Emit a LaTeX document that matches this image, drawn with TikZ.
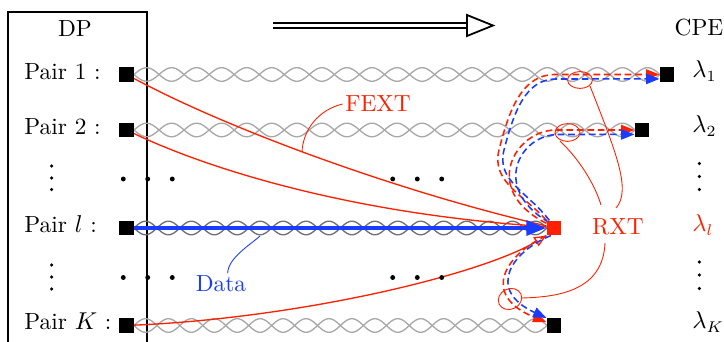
\documentclass[tikz,border=0pt]{standalone}
\usetikzlibrary{arrows.meta}
\pgfdeclarelayer{back}
\pgfsetlayers{back,main}
\definecolor{xred}{RGB}{255,32,0}
\definecolor{xblue}{RGB}{25,60,255}
\definecolor{pairlight}{RGB}{168,168,168}
\definecolor{pairdark}{RGB}{112,112,112}
% twisted pair: #1 centre line, #2 start x, #3 end x, #4 half period, #5 style
\newcommand\twistedpair[5]{%
  \draw[#5] plot[domain=#2:#3, samples=300] (\x,{#1+6.8*sin(((\x-#2)/#4)*180)});
  \draw[#5] plot[domain=#2:#3, samples=300] (\x,{#1-6.8*sin(((\x-#2)/#4)*180)});}
\begin{document}
\begin{tikzpicture}[x=0.45pt, y=-0.45pt,
  font=\fontsize{10.5}{12.6}\selectfont,
  sq/.style={rectangle, fill=black, inner sep=0pt, minimum size=6.4pt},
  fext/.style={xred, line width=0.6pt},
  lead/.style={line width=0.4pt},
  rxt/.style={line width=0.7pt, dash pattern=on 3pt off 1.7pt,
    -{Triangle[length=6pt,width=4.6pt]}},
  lbl/.style={inner sep=1pt}]
\useasboundingbox (0,0) rectangle (724,342);

% terminals
\node[sq] (l1) at (126.5,74.5) {};
\node[sq] (l2) at (126.5,130) {};
\node[sq] (ll) at (126.5,228) {};
\node[sq] (lK) at (126.5,325.5) {};
\node[sq] (r1) at (667,74.5) {};
\node[sq] (r2) at (642,130) {};
\node[sq, fill=xred] (rl) at (554,228) {};
\node[sq] (rK) at (554,325.5) {};

\begin{pgfonlayer}{back}
  % DP enclosure
  \draw[line width=0.6pt] (8,12) rectangle (147,346);
  % cables
  \twistedpair{74.5}{134}{660}{25.05}{pairlight, line width=0.6pt}
  \twistedpair{130}{134}{635}{25.05}{pairlight, line width=0.6pt}
  \twistedpair{228}{134}{547}{22.94}{pairdark, line width=0.6pt}
  \twistedpair{325.5}{134}{547}{22.94}{pairlight, line width=0.6pt}
  % far-end crosstalk
  \draw[fext] (l1) .. controls (230,130) and (400,192) .. (rl.165);
  \draw[fext] (l2) .. controls (215,172) and (360,215) .. (rl.170);
  \draw[fext, -{Triangle[open, length=5.5pt, width=4.6pt]}]
    (lK) .. controls (300,318) and (480,275) .. (rl.south west);
  % data
  \draw[xblue, line width=1.8pt, -{Triangle[length=9pt,width=6.6pt]}]
    (ll.center) -- (rl.west);
  % crosstalk at the receiver
  \draw[rxt, xred] (rl.north west) .. controls (524,195) and (491,182) .. (499,150)
    .. controls (509,110) and (522,74.5) .. (555,74.5) -- (r1.west);
  \draw[rxt, xblue] ([xshift=1.3pt]rl.north west) .. controls (528,192) and (496,181) .. (504,150)
    .. controls (514,111) and (526,79) .. (556,79) -- ([yshift=-2pt]r1.west);
  \draw[rxt, xred] ([yshift=-1.3pt]rl.north west) .. controls (480,190) and (515,130) .. (556,130) -- (r2.west);
  \draw[rxt, xblue] ([xshift=1.3pt,yshift=-1pt]rl.north west) .. controls (490,188) and (520,134.5) .. (558,134.5) -- ([yshift=-2pt]r2.west);
  \draw[rxt, xred] (rl.south west) .. controls (505,255) and (480,295) .. ([yshift=1.5pt]rK.west);
  \draw[rxt, xblue] ([xshift=2pt]rl.south west) .. controls (511,252) and (486,290) .. (rK.north west);
\end{pgfonlayer}

% direction arrow
\coordinate (arrA) at (273,25.5);
\coordinate (arrB) at (467,25.5);
\draw[line width=0.8pt, double distance=1.7pt] (arrA) -- (arrB);
\draw[line width=0.8pt, fill=white] (467,15) -- (493,25.5) -- (467,36) -- cycle;

% headings and labels
\node (dp) at (75,28.5) {DP};
\node (cpe) at (699,28) {CPE};
\node[anchor=base west, inner sep=0pt] (p1) at (24,79.3) {Pair 1 :};
\node[anchor=base west, inner sep=0pt] (p2) at (24,135) {Pair 2 :};
\node[anchor=base west, inner sep=0pt] (pl) at (24,233) {Pair $l$ :};
\node[anchor=base west, inner sep=0pt] (pK) at (24,330) {Pair $K$ :};
\node[anchor=base west, inner sep=0pt] (lam1) at (692,77.5) {$\lambda_1$};
\node[anchor=base west, inner sep=0pt] (lam2) at (692,132.5) {$\lambda_2$};
\node[anchor=base west, inner sep=0pt, text=xred] (laml) at (692,232) {$\lambda_l$};
\node[anchor=base west, inner sep=0pt] (lamK) at (692,329) {$\lambda_K$};

% FEXT note
\node[lbl, text=xred] (fextlbl) at (378,104) {FEXT};
\coordinate (fexttap) at (302,152);
\draw[lead, xred] (fextlbl.west) .. controls (318,110) and (303,130) .. (fexttap);

% data note
\node[lbl, text=xblue] (datalbl) at (221,284) {Data};
\coordinate (datatap) at (260,236);
\draw[lead, xblue] ([xshift=3pt]datalbl.north) .. controls (228,258) and (250,245) .. (datatap);

% RXT note with loops round the crosstalk paths
\node[lbl, text=xred] (rxtlbl) at (618,227) {RXT};
\coordinate (loop1) at (580,80);
\coordinate (loop2) at (567.5,132.5);
\coordinate (loopK) at (510,299);
\draw[lead, xred] (loop1) ellipse [x radius=5.6pt, y radius=3.8pt];
\draw[lead, xred] (loop2) ellipse [x radius=5.6pt, y radius=4pt];
\draw[lead, xred, rotate around={25:(loopK)}] (loopK) ellipse [x radius=5.4pt, y radius=4.6pt];
\draw[lead, xred] (590,86) .. controls (615,150) and (632,190) .. (616,208);
\draw[lead, xred] (560,141) .. controls (580,160) and (595,185) .. (601,205);
\draw[lead, xred] (605,243) .. controls (603,290) and (560,297) .. (522,298);

% ellipsis dots
\foreach \y in {179,277.5}
  \foreach \x in {123.3,147.7,172.3,392.7,417.3,441.7}
    \fill (\x,\y) circle[radius=1.1pt];
\foreach \y in {166,178,189.5,265,277,289}
  \fill (51.7,\y) circle[radius=0.8pt];
\foreach \y in {163.5,176.5,189.5,262,275,288.5}
  \fill (699.3,\y) circle[radius=0.8pt];
\end{tikzpicture}
\end{document}
